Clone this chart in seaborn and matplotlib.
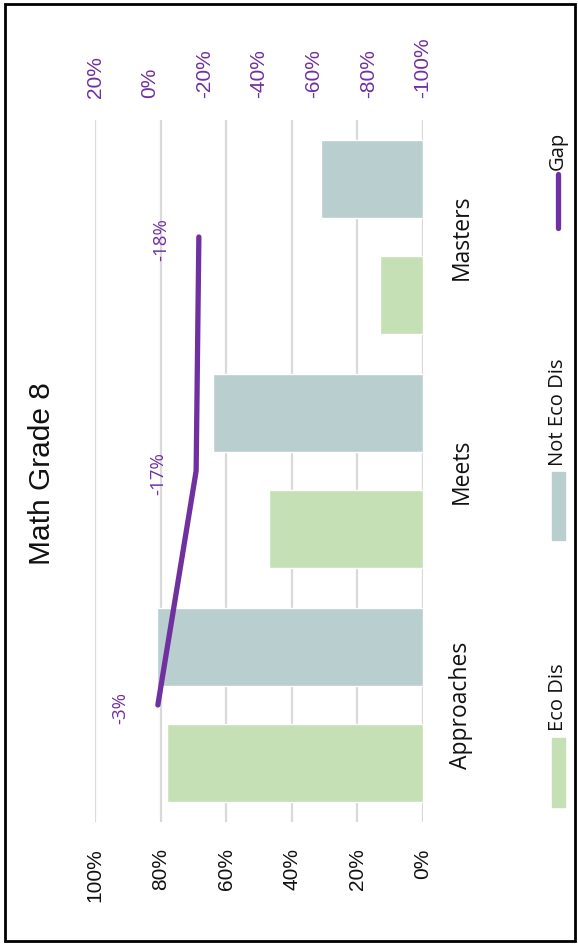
import numpy as np
import pandas as pd
import matplotlib
matplotlib.use("Agg")
import matplotlib.pyplot as plt
from matplotlib.patches import Rectangle
from matplotlib.lines import Line2D
import seaborn as sns

# ---- data -------------------------------------------------------------
categories = ["Approaches", "Meets", "Masters"]
series = ["Eco Dis", "Not Eco Dis"]
eco_dis = [0.78, 0.47, 0.13]
not_eco_dis = [0.81, 0.64, 0.31]
gap = [-0.03, -0.17, -0.18]
primary_ticks = [0.0, 0.2, 0.4, 0.6, 0.8, 1.0]
secondary_ticks = [0.2, 0.0, -0.2, -0.4, -0.6, -0.8, -1.0]
title = "Math Grade 8"

# ---- style ------------------------------------------------------------
bar_colors = ["#C5E0B4", "#B9CECE"]
gap_color = "#7030A0"
grid_color = "#D9D9D9"
ui_font = ["Open Sans", "DejaVu Sans"]
num_font = ["Liberation Sans", "DejaVu Sans"]

sns.set_style("white")
plt.rcParams["font.family"] = ui_font

W, H = 578, 947
fig = plt.figure(figsize=(W / 100, H / 100), dpi=100)
fig.patch.set_facecolor("white")


def fx(x):
    return x / W


def fy(y):
    return 1 - y / H


# the chart is laid out turned a quarter turn: values run right-to-left
ax = fig.add_axes([fx(95), fy(822), (423 - 95) / W, (822 - 120) / H])

df = pd.DataFrame({
    "Level": categories * 2,
    "Group": [series[0]] * len(categories) + [series[1]] * len(categories),
    "Share": eco_dis + not_eco_dis,
})

sns.barplot(data=df, y="Level", x="Share", hue="Group", order=categories,
            hue_order=series, palette=bar_colors, orient="h", width=0.99,
            gap=0.33, saturation=1, errorbar=None, legend=False, ax=ax,
            zorder=2)

positions = np.arange(len(categories))
ax.set_xlim(1.0, 0.0)
ax.set_ylim(-0.5, len(categories) - 0.5)
ax.set_xticks(primary_ticks)
ax.set_xticklabels([f"{round(t * 100)}%" for t in primary_ticks],
                   rotation=90, fontsize=15, family=num_font, color="#111111")
ax.tick_params(axis="x", length=0, pad=19)
ax.grid(axis="x", color=grid_color, lw=1.6, zorder=0)
ax.grid(axis="y", visible=False)
ax.set_axisbelow(True)
ax.set_xlabel("")
ax.set_ylabel("")
for s in ax.spines.values():
    s.set_visible(False)

ax.yaxis.tick_right()
ax.set_yticks(positions)
ax.set_yticklabels(categories, fontsize=16.5, family=ui_font, color="#111111")
ax.tick_params(axis="y", length=0, pad=19)
for lab in ax.get_yticklabels(which="both"):
    lab.set_rotation(90)
    lab.set_va("center")
    lab.set_ha("left")

# secondary scale for the gap line
ax2 = ax.twiny()
ax2.set_xlim(0.2, -1.0)
sns.lineplot(x=gap, y=positions, orient="y", sort=False, estimator=None,
             color=gap_color, lw=3.8, ax=ax2, solid_capstyle="round",
             zorder=3)
ax2.set_ylim(-0.5, len(categories) - 0.5)
ax2.set_xticks(secondary_ticks)
ax2.set_xticklabels([f"{round(t * 100)}%" for t in secondary_ticks],
                    rotation=90, fontsize=15, family=num_font, color=gap_color)
ax2.tick_params(axis="x", length=0, pad=16)
ax2.grid(False)
ax2.set_xlabel("")
ax2.set_ylabel("")
for s in ax2.spines.values():
    s.set_visible(False)

for g, p in zip(gap, positions):
    ax2.annotate(f"{round(g * 100)}%", xy=(g, p), xytext=(-27, -2),
                 textcoords="offset points", rotation=90, ha="center",
                 va="center", color=gap_color, fontsize=13.5, family=ui_font)

# title
fig.text(fx(42), fy(474), title, rotation=90, ha="center", va="center",
         fontsize=21.5, family=num_font, color="#111111")

# legend, stacked along the right edge
leg_x = 558
fig.add_artist(Rectangle((fx(552), fy(807)), 13 / W, 69 / H,
                         transform=fig.transFigure, color=bar_colors[0]))
fig.text(fx(leg_x), fy(731), series[0], rotation=90, ha="center", va="bottom",
         fontsize=14.5, family=ui_font, color="#111111")
fig.add_artist(Rectangle((fx(552), fy(540)), 13 / W, 68 / H,
                         transform=fig.transFigure, color=bar_colors[1]))
fig.text(fx(leg_x), fy(466), series[1], rotation=90, ha="center", va="bottom",
         fontsize=14.5, family=ui_font, color="#111111")
fig.add_artist(Line2D([fx(leg_x), fx(leg_x)], [fy(228), fy(174)],
                      transform=fig.transFigure, color=gap_color, lw=3.8,
                      solid_capstyle="round"))
fig.text(fx(leg_x), fy(170), "Gap", rotation=90, ha="center", va="bottom",
         fontsize=14.5, family=ui_font, color="#111111")

# outer frame
fig.add_artist(Rectangle((fx(5), fy(941)), 570 / W, 937 / H,
                         transform=fig.transFigure, fill=False,
                         ec="black", lw=2))

fig.savefig("out.png", dpi=100, facecolor="white")
